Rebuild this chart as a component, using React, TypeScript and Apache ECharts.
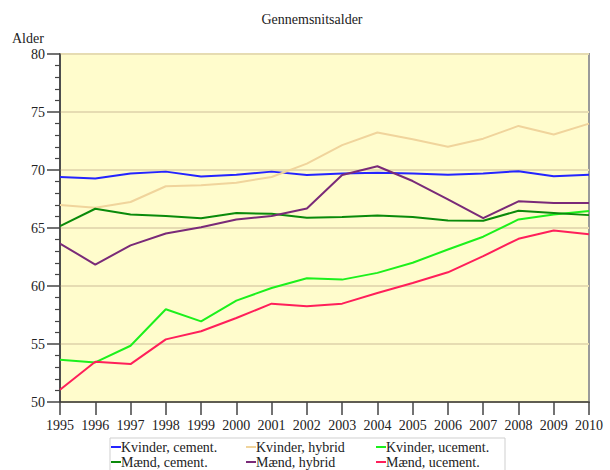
import React, { useEffect, useRef } from "react";
import * as echarts from "echarts";

const years = ["1995","1996","1997","1998","1999","2000","2001","2002","2003","2004","2005","2006","2007","2008","2009","2010"];

const kvinderCement = [69.4, 69.26, 69.7, 69.86, 69.43, 69.6, 69.86, 69.57, 69.7, 69.77, 69.7, 69.6, 69.7, 69.9, 69.46, 69.6];
const kvinderHybrid = [66.98, 66.75, 67.24, 68.6, 68.68, 68.9, 69.4, 70.55, 72.14, 73.23, 72.65, 72.0, 72.7, 73.8, 73.06, 74.0];
const kvinderUcement = [53.64, 53.41, 54.85, 58.0, 56.95, 58.74, 59.83, 60.67, 60.55, 61.13, 62.0, 63.15, 64.25, 65.74, 66.17, 66.46];
const maendCement = [65.17, 66.66, 66.17, 66.03, 65.85, 66.29, 66.23, 65.89, 65.94, 66.08, 65.94, 65.65, 65.62, 66.49, 66.3, 66.11];
const maendHybrid = [63.66, 61.85, 63.5, 64.53, 65.07, 65.74, 66.03, 66.68, 69.57, 70.32, 69.05, 67.47, 65.85, 67.3, 67.15, 67.15];
const maendUcement = [51.05, 53.47, 53.27, 55.4, 56.1, 57.24, 58.48, 58.25, 58.48, 59.4, 60.26, 61.18, 62.57, 64.07, 64.79, 64.47];

const seriesNames = ["Kvinder, cement.", "Kvinder, hybrid", "Kvinder, ucement.", "Mænd, cement.", "Mænd, hybrid", "Mænd, ucement."];
const seriesData = [kvinderCement, kvinderHybrid, kvinderUcement, maendCement, maendHybrid, maendUcement];
const seriesColors = ["#2424ff", "#f0d49c", "#1cf01c", "#0a8a0a", "#7a2a78", "#ff1f5a"];

const FONT = "'Liberation Serif', 'DejaVu Serif', serif";

const legendLeft = [111, 246, 376, 111, 246, 376];
const legendTop = [440, 440, 440, 455, 455, 455];

export default function App() {
  const ref = useRef<HTMLDivElement>(null);
  useEffect(() => {
    if (!ref.current) return;
    const chart = echarts.init(ref.current, undefined, { renderer: "svg" });
    chart.setOption({
      animation: false,
      backgroundColor: "#ffffff",
      title: {
        text: "Gennemsnitsalder",
        left: 307,
        top: 7,
        textAlign: "center",
        textStyle: { fontFamily: FONT, fontSize: 14, fontWeight: "normal", color: "#222" },
      },
      graphic: [
        { type: "rect", shape: { x: 110, y: 438, width: 395, height: 40 }, style: { fill: "#fff", stroke: "#cfcfcf", lineWidth: 1 }, z: -1 },
        { type: "text", x: 12, y: 31, style: { text: "Alder", font: `14px ${FONT}`, fill: "#222" } },
      ],
      legend: seriesNames.map((name, i) => ({
        left: legendLeft[i],
        top: legendTop[i],
        data: [name],
        itemWidth: 10,
        itemHeight: 2,
        icon: "rect",
        padding: 0,
        textStyle: { fontFamily: FONT, fontSize: 14, lineHeight: 14, color: "#222", padding: [0, 0, 0, -5] },
      })),
      grid: {
        left: 60,
        right: 21,
        top: 54,
        bottom: 68,
        outerBoundsMode: "none",
        show: true,
        backgroundColor: "#fffccc",
        borderColor: "#9a9a9a",
        borderWidth: 2,
      },
      xAxis: {
        type: "category",
        data: years,
        boundaryGap: false,
        axisLine: { lineStyle: { color: "#333", width: 1.5 } },
        axisTick: { length: 13, interval: 0, lineStyle: { color: "#444", width: 1.5 } },
        axisLabel: { fontFamily: FONT, fontSize: 14, color: "#222", margin: 16, interval: 0, hideOverlap: false },
        splitLine: { show: false },
      },
      yAxis: {
        type: "value",
        min: 50,
        max: 80,
        interval: 5,
        axisLine: { show: true, lineStyle: { color: "#333", width: 1.5 } },
        axisTick: { show: true, length: 13, lineStyle: { color: "#444", width: 1.5 } },
        minorTick: { show: true, splitNumber: 5, length: 5, lineStyle: { color: "#444", width: 1.2 } },
        axisLabel: { fontFamily: FONT, fontSize: 14, color: "#222", margin: 15 },
        splitLine: { show: true, lineStyle: { color: "#e6dcb2", width: 2 } },
      },
      series: seriesNames.map((name, i) => ({
        name,
        type: "line",
        data: seriesData[i],
        symbol: "none",
        color: seriesColors[i],
        lineStyle: { width: 2, color: seriesColors[i] },
      })),
    });
    return () => chart.dispose();
  }, []);
  return <div ref={ref} style={{ width: 610, height: 470, position: "absolute", left: 0, top: 0 }} />;
}
